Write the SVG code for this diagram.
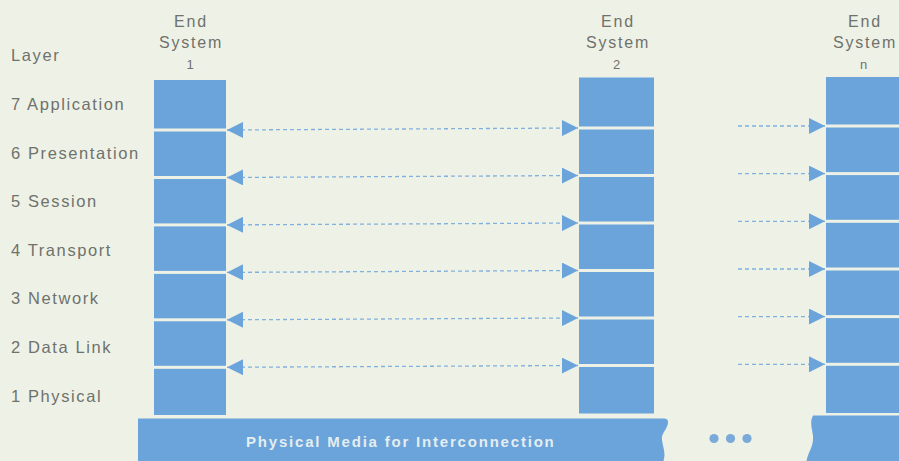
<svg xmlns="http://www.w3.org/2000/svg" width="899" height="461" viewBox="0 0 899 461">
<defs>
<style>
.bg{fill:#eef2e6}
.blk{fill:#6aa4da}
.lbl{font-family:"Liberation Sans",Arial,sans-serif;font-size:16.5px;letter-spacing:1.6px;fill:#6f716d}
.hdr{font-family:"Liberation Sans",Arial,sans-serif;font-size:16px;letter-spacing:1.8px;fill:#6f716d;text-anchor:middle}
.num{font-family:"Liberation Sans",Arial,sans-serif;font-size:13px;fill:#6f716d;text-anchor:middle}
.band{fill:#6aa4da}
.bandtxt{font-family:"Liberation Sans",Arial,sans-serif;font-size:15px;font-weight:bold;letter-spacing:1.8px;fill:#e4edf0}
.con{fill:none;stroke:#80b0de;stroke-width:1.3;stroke-dasharray:4 3}
.dot{fill:#7aaad9}
</style>
<marker id="ah" markerUnits="userSpaceOnUse" markerWidth="16" markerHeight="16" viewBox="0 0 16 16" refX="16" refY="8" orient="auto-start-reverse">
<path d="M0,0 L16,8 L0,16 Z" fill="#6aa4da"/>
</marker>
</defs>
<rect class="bg" x="0" y="0" width="899" height="461"/>

<g id="layer-labels">
<text class="lbl" x="11" y="61">Layer</text>
<text class="lbl" x="11" y="110">7 Application</text>
<text class="lbl" x="11" y="158.6">6 Presentation</text>
<text class="lbl" x="11" y="207.2">5 Session</text>
<text class="lbl" x="11" y="255.8">4 Transport</text>
<text class="lbl" x="11" y="304.4">3 Network</text>
<text class="lbl" x="11" y="353">2 Data Link</text>
<text class="lbl" x="11" y="401.6">1 Physical</text>
</g>

<g id="end-system-1">
<text class="hdr" x="191" y="27">End</text>
<text class="hdr" x="191" y="48">System</text>
<text class="num" x="190" y="69">1</text>
<rect class="blk" x="154" y="80" width="72" height="48.5"/>
<rect class="blk" x="154" y="131.5" width="72" height="44.5"/>
<rect class="blk" x="154" y="179" width="72" height="44.4"/>
<rect class="blk" x="154" y="226.4" width="72" height="44.5"/>
<rect class="blk" x="154" y="273.9" width="72" height="44.4"/>
<rect class="blk" x="154" y="321.3" width="72" height="44.5"/>
<rect class="blk" x="154" y="368.8" width="72" height="46.2"/>
</g>

<g id="end-system-2">
<text class="hdr" x="618" y="27">End</text>
<text class="hdr" x="618" y="48">System</text>
<text class="num" x="616.5" y="69">2</text>
<rect class="blk" x="579" y="77.5" width="75" height="49"/>
<rect class="blk" x="579" y="129.5" width="75" height="44.5"/>
<rect class="blk" x="579" y="177" width="75" height="44.5"/>
<rect class="blk" x="579" y="224.5" width="75" height="44.5"/>
<rect class="blk" x="579" y="272" width="75" height="44.5"/>
<rect class="blk" x="579" y="319.5" width="75" height="44.5"/>
<rect class="blk" x="579" y="367" width="75" height="46.5"/>
</g>

<g id="end-system-n">
<text class="hdr" x="865" y="27">End</text>
<text class="hdr" x="865" y="48">System</text>
<text class="num" x="863.5" y="69">n</text>
<rect class="blk" x="826" y="77" width="75" height="47.5"/>
<rect class="blk" x="826" y="127.5" width="75" height="44.6"/>
<rect class="blk" x="826" y="175.1" width="75" height="44.7"/>
<rect class="blk" x="826" y="222.8" width="75" height="44.7"/>
<rect class="blk" x="826" y="270.5" width="75" height="44.6"/>
<rect class="blk" x="826" y="318.1" width="75" height="44.7"/>
<rect class="blk" x="826" y="365.8" width="75" height="47.2"/>
</g>

<g id="physical-media">
<path class="band" d="M138,418.5 L664,418.5 Q668.5,418.5 668,423 C667,430 661,433 662,440 C663,448 666,453 663.5,461 L138,461 Z"/>
<text class="bandtxt" x="246" y="447">Physical Media for Interconnection</text>
<circle class="dot" cx="714" cy="438.5" r="4.6"/>
<circle class="dot" cx="730.5" cy="438.5" r="4.6"/>
<circle class="dot" cx="747" cy="438.5" r="4.6"/>
<path class="band" d="M813,415.5 L899,415.5 L899,461 L806.5,461 C808,452 814,446 813,436 C812,428 809.5,422 813,415.5 Z"/>
</g>

<g id="connectors">
<line class="con" x1="227" y1="130" x2="578" y2="128" marker-start="url(#ah)" marker-end="url(#ah)"/>
<line class="con" x1="227" y1="177.5" x2="578" y2="175.5" marker-start="url(#ah)" marker-end="url(#ah)"/>
<line class="con" x1="227" y1="224.9" x2="578" y2="223" marker-start="url(#ah)" marker-end="url(#ah)"/>
<line class="con" x1="227" y1="272.4" x2="578" y2="270.5" marker-start="url(#ah)" marker-end="url(#ah)"/>
<line class="con" x1="227" y1="319.8" x2="578" y2="318" marker-start="url(#ah)" marker-end="url(#ah)"/>
<line class="con" x1="227" y1="367.3" x2="578" y2="365.5" marker-start="url(#ah)" marker-end="url(#ah)"/>
<line class="con" x1="738" y1="126" x2="825" y2="126" marker-end="url(#ah)"/>
<line class="con" x1="738" y1="173.6" x2="825" y2="173.6" marker-end="url(#ah)"/>
<line class="con" x1="738" y1="221.3" x2="825" y2="221.3" marker-end="url(#ah)"/>
<line class="con" x1="738" y1="269" x2="825" y2="269" marker-end="url(#ah)"/>
<line class="con" x1="738" y1="316.6" x2="825" y2="316.6" marker-end="url(#ah)"/>
<line class="con" x1="738" y1="364.3" x2="825" y2="364.3" marker-end="url(#ah)"/>
</g>
</svg>
